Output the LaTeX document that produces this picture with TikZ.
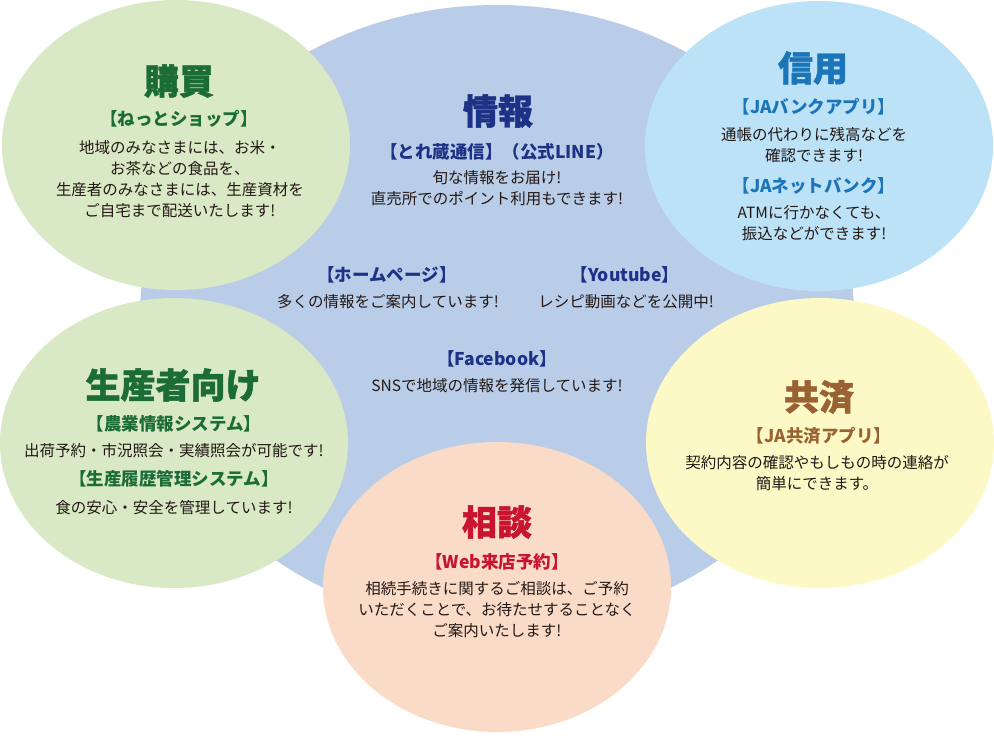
\documentclass[tikz,border=0pt]{standalone}
\usepackage{fontspec}
\setmainfont{Noto Sans CJK JP}
\newfontfamily\heavyjp{Noto Sans CJK JP}[BoldFeatures={FakeBold=1.3}]
\usetikzlibrary{shapes.geometric}

\definecolor{infofill}{HTML}{B9CDE8}
\definecolor{buyfill}{HTML}{D9E8C5}
\definecolor{bankfill}{HTML}{BCE2F7}
\definecolor{insfill}{HTML}{FDF9C6}
\definecolor{talkfill}{HTML}{FADBC8}
\definecolor{greenink}{HTML}{1B6C37}
\definecolor{navyink}{HTML}{1D3186}
\definecolor{blueink}{HTML}{1C74B9}
\definecolor{brownink}{HTML}{9A6233}
\definecolor{redink}{HTML}{C8142F}
\definecolor{bodyink}{HTML}{231815}

\begin{document}
\begin{tikzpicture}[
    x=1pt, y=-1pt,
    blob/.style={ellipse, minimum width=348pt, minimum height=290pt, inner sep=0pt},
    ttl/.style={font=\heavyjp\fontsize{35}{38}\selectfont\bfseries, inner sep=0pt},
    tag/.style={font=\fontsize{17.5}{20}\selectfont\bfseries, inner sep=0pt},
    body/.style={font=\fontsize{15.5}{21}\selectfont, text=bodyink, align=center, inner sep=0pt}
]
\useasboundingbox (0,0) rectangle (994,740);

% circles
\node[blob, fill=infofill, minimum width=714pt, minimum height=622pt] (joho) at (497,316) {};
\node[blob, fill=buyfill] (kobai) at (176,145) {};
\node[blob, fill=bankfill] (shinyo) at (819,146) {};
\node[blob, fill=buyfill] (seisan) at (174,443) {};
\node[blob, fill=insfill] (kyosai) at (820,443) {};
\node[blob, fill=talkfill] (sodan) at (497,587) {};

% 購買
\node[ttl, text=greenink] (kobai-t) at (179,81) {購買};
\node[tag, text=greenink] (kobai-l) at (179,119) {【ねっとショップ】};
\node[body] (kobai-b) at (180,179) {地域のみなさまには、お米・\\お茶などの食品を、\\生産者のみなさまには、生産資材を\\ご自宅まで配送いたします!};

% 情報
\node[ttl, text=navyink] (joho-t) at (498,111) {情報};
\node[tag, text=navyink] (joho-l) at (497,152) {【とれ蔵通信】（公式LINE）};
\node[body] (joho-b) at (497,188) {旬な情報をお届け!\\直売所でのポイント利用もできます!};
\node[tag, text=navyink] (hp-l) at (387,275) {【ホームページ】};
\node[body] (hp-b) at (388,302) {多くの情報をご案内しています!};
\node[tag, text=navyink] (yt-l) at (625,275) {【Youtube】};
\node[body] (yt-b) at (626,302) {レシピ動画などを公開中!};
\node[tag, text=navyink] (fb-l) at (497,359) {【Facebook】};
\node[body] (fb-b) at (497,386) {SNSで地域の情報を発信しています!};

% 信用
\node[ttl, text=blueink] (shinyo-t) at (813,68) {信用};
\node[tag, text=blueink] (shinyo-l1) at (814,107) {【JAバンクアプリ】};
\node[body] (shinyo-b1) at (814,145) {通帳の代わりに残高などを\\確認できます!};
\node[tag, text=blueink] (shinyo-l2) at (814,186) {【JAネットバンク】};
\node[body] (shinyo-b2) at (814,223) {ATMに行かなくても、\\振込などができます!};

% 生産者向け
\node[ttl, text=greenink] (seisan-t) at (173,385) {生産者向け};
\node[tag, text=greenink] (seisan-l1) at (174,424) {【農業情報システム】};
\node[body] (seisan-b1) at (174,451) {出荷予約・市況照会・実績照会が可能です!};
\node[tag, text=greenink] (seisan-l2) at (174,479) {【生産履歴管理システム】};
\node[body] (seisan-b2) at (174,508) {食の安心・安全を管理しています!};

% 共済
\node[ttl, text=brownink] (kyosai-t) at (819,397) {共済};
\node[tag, text=brownink] (kyosai-l) at (819,436) {【JA共済アプリ】};
\node[body] (kyosai-b) at (817,473) {契約内容の確認やもしもの時の連絡が\\簡単にできます。};

% 相談
\node[ttl, text=redink] (sodan-t) at (497,522) {相談};
\node[tag, text=redink] (sodan-l) at (497,562) {【Web来店予約】};
\node[body] (sodan-b) at (497,610) {相続手続きに関するご相談は、ご予約\\いただくことで、お待たせすることなく\\ご案内いたします!};
\end{tikzpicture}
\end{document}
